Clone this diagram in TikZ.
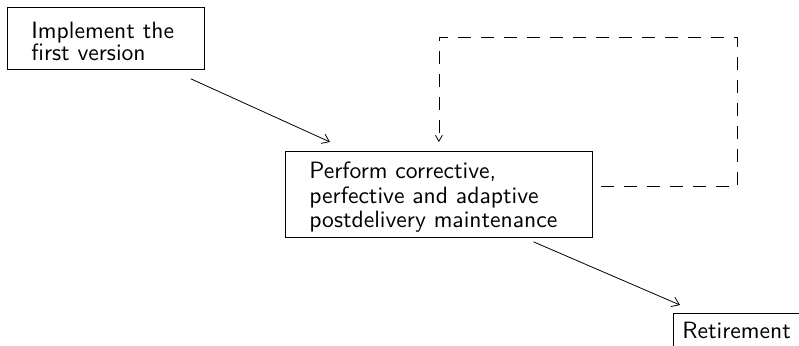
\documentclass[tikz,border=0pt]{standalone}
\usepackage{fontspec}
\setsansfont{lmsans10-regular.otf}
\usetikzlibrary{calc,arrows.meta}
% extra room above the first line of a box, to lower its text a little
\newcommand{\toproom}[1]{\rule{0pt}{#1}}
\begin{document}
\begin{tikzpicture}[x=1pt,y=-1pt,
  every node/.style={font=\sffamily\fontsize{23.6}{22}\selectfont},
  stepbox/.style={draw, line width=0.8pt, align=left, inner xsep=24pt, anchor=north west},
  flow/.style={-{Straight Barb[length=7pt,width=10pt]}, line width=0.8pt},
  loop/.style={-{Straight Barb[length=6pt,width=7pt]}, line width=0.8pt, dash pattern=on 13pt off 10pt}]
  \clip (0,0) rectangle (799,345);

  \node[stepbox, text width=149pt, minimum height=62pt] (impl) at (7,7)
    {\toproom{23pt}Implement the\\first version};
  \node[stepbox, text width=259pt, minimum height=86pt,
        font=\sffamily\fontsize{23.6}{24.5}\selectfont] (maint) at (285,151)
    {\toproom{23pt}Perform corrective,\\perfective and adaptive\\postdelivery maintenance};
  \node[draw, line width=0.8pt, anchor=north west, inner xsep=9pt, inner ysep=8pt,
        text width=124pt, text height=17pt, text depth=14pt] (ret) at (673,313) {Retirement};

  \coordinate (loopcorner) at (737,37);

  \draw[flow] ([shift={(-14,9)}]impl.south east) -- ([shift={(45,-9)}]maint.north west);
  \draw[flow] ([shift={(94.5,4)}]maint.south) -- ([shift={(7,-8)}]ret.north west);
  \draw[loop] ([shift={(8,-8)}]maint.east) -| (loopcorner)
    -| ([shift={(0,-9)}]maint.north);
\end{tikzpicture}
\end{document}
